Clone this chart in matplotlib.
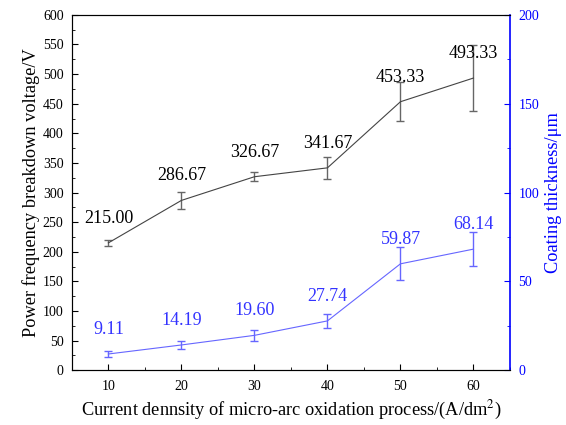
import matplotlib.pyplot as plt
from matplotlib.ticker import MultipleLocator

plt.rcParams['font.family'] = ['Liberation Serif', 'DejaVu Serif']
plt.rcParams['mathtext.fontset'] = 'stix'

# données
current_density = [10, 20, 30, 40, 50, 60]
voltage = [215.00, 286.67, 326.67, 341.67, 453.33, 493.33]
voltage_err = [5, 14, 8, 19, 33, 56]
thickness = [9.11, 14.19, 19.60, 27.74, 59.87, 68.14]
thickness_err = [1.5, 2.4, 3.1, 3.9, 9.3, 9.5]

fig = plt.figure(figsize=(5.66, 4.25), dpi=100)
ax = fig.add_axes([0.127, 0.129, 0.774, 0.836])
ax2 = ax.twinx()

ax.errorbar(current_density, voltage, yerr=voltage_err, color='#444444', lw=0.8,
            ecolor='#666666', elinewidth=1.0, capsize=3, capthick=1.0)
for x, y in zip(current_density, voltage):
    ax.annotate(f"{y:.2f}", (x, y), xytext=(0, 11.5), textcoords='offset points',
                ha='center', va='bottom', fontsize=13, color='black')

blue = '#3333ff'
ax2.errorbar(current_density, thickness, yerr=thickness_err, color='#6666ff', lw=0.8,
             ecolor='#6666ff', elinewidth=1.0, capsize=3, capthick=1.0)
for x, y in zip(current_density, thickness):
    ax2.annotate(f"{y:.2f}", (x, y), xytext=(0, 11.5), textcoords='offset points',
                 ha='center', va='bottom', fontsize=13, color=blue)

ax.set_xlim(5, 65)
ax.set_ylim(0, 600)
ax2.set_ylim(0, 200)
ax.xaxis.set_major_locator(MultipleLocator(10))
ax.xaxis.set_minor_locator(MultipleLocator(5))
ax.yaxis.set_major_locator(MultipleLocator(50))
ax.yaxis.set_minor_locator(MultipleLocator(25))
ax2.yaxis.set_major_locator(MultipleLocator(50))
ax2.yaxis.set_minor_locator(MultipleLocator(25))

ax.tick_params(which='both', direction='in', labelsize=10, top=False)
ax.tick_params(which='major', length=4.5)
ax.tick_params(which='minor', length=2.5)
ax.tick_params(axis='x', pad=7)
ax.tick_params(axis='y', pad=6)
ax2.tick_params(which='both', direction='in', colors='blue', labelsize=10, pad=6)
ax2.tick_params(which='major', length=4.5)
ax2.tick_params(which='minor', length=2.5)

for s in ['left', 'bottom', 'top']:
    ax.spines[s].set_color('#333333')
ax2.spines['right'].set_color('blue')
ax2.spines['right'].set_linewidth(1.2)
ax.spines['right'].set_visible(False)

ax.set_xlabel("Current dennsity of micro-arc oxidation process/(A/dm$^2$)", fontsize=13.2, labelpad=4)
ax.set_ylabel("Power frequency breakdown voltage/V", fontsize=13.2, labelpad=2)
ax2.set_ylabel("Coating thickness/\u03bcm", fontsize=13.2, color='blue', labelpad=4)

plt.savefig('out.png', dpi=100)
